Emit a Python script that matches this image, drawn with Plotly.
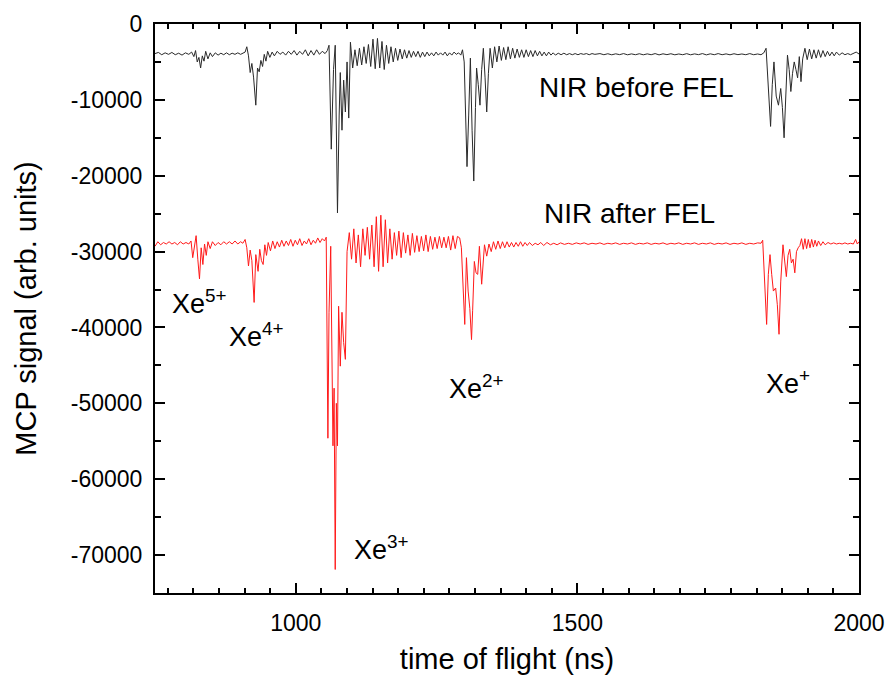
import plotly.graph_objects as go

# ---------------- data ----------------
tof_before = [
    750, 756, 762, 768, 774, 780, 786, 792, 798, 804,
    810, 815, 819, 822, 825, 828, 831, 834, 837, 840,
    844, 848, 852, 857, 862, 867, 872, 877, 882, 887,
    892, 897, 902, 906, 910, 913, 916, 919, 922, 925,
    929, 932, 935, 938, 941, 944, 947, 950, 954, 958,
    962, 967, 972, 977, 982, 987, 992, 997, 1002, 1007,
    1012, 1017, 1022, 1027, 1032, 1037, 1042, 1047, 1052, 1056,
    1059, 1063, 1067, 1070, 1074, 1077, 1079, 1082, 1085, 1088,
    1091, 1094, 1097, 1101, 1105, 1109, 1113, 1117, 1121, 1125,
    1129, 1133, 1137, 1141, 1145, 1149, 1153, 1157, 1161, 1165,
    1169, 1173, 1177, 1181, 1185, 1189, 1193, 1197, 1201, 1205,
    1209, 1213, 1217, 1221, 1225, 1229, 1233, 1237, 1241, 1245,
    1249, 1253, 1257, 1261, 1265, 1269, 1273, 1277, 1281, 1285,
    1289, 1293, 1296, 1299, 1301, 1304, 1307, 1310, 1313, 1316,
    1319, 1321, 1324, 1327, 1330, 1333, 1336, 1339, 1342, 1345,
    1349, 1353, 1357, 1361, 1365, 1369, 1373, 1377, 1381, 1385,
    1389, 1393, 1397, 1401, 1405, 1409, 1413, 1417, 1421, 1425,
    1429, 1433, 1437, 1441, 1445, 1449, 1453, 1457, 1461, 1466,
    1471, 1476, 1481, 1486, 1491, 1496, 1501, 1506, 1511, 1516,
    1521, 1526, 1531, 1536, 1540, 1547, 1554, 1561, 1568, 1575,
    1582, 1589, 1596, 1603, 1610, 1617, 1624, 1631, 1638, 1645,
    1652, 1659, 1666, 1673, 1680, 1687, 1694, 1701, 1708, 1715,
    1722, 1729, 1736, 1743, 1750, 1757, 1764, 1771, 1778, 1785,
    1792, 1799, 1806, 1813, 1820, 1826, 1831, 1835, 1839, 1843,
    1846, 1849, 1853, 1857, 1861, 1864, 1867, 1870, 1873, 1876,
    1879, 1882, 1885, 1888, 1891, 1894, 1897, 1900, 1904, 1908,
    1912, 1916, 1920, 1924, 1928, 1932, 1936, 1940, 1944, 1948,
    1952, 1956, 1960, 1965, 1970, 1975, 1980, 1985, 1990, 1995,
    2000,
]
signal_before = [
    -3900, -3750, -4050, -3800, -4000, -3750, -4050, -3850, -4100, -3800,
    -4000, -3700, -4300, -3500, -5000, -4400, -5800, -4200, -4900, -3600,
    -4600, -3800, -4300, -3800, -4100, -3850, -4050, -3800, -4050, -3850,
    -4000, -3800, -4000, -3800, -3700, -3000, -4200, -6400, -5200, -7000,
    -10700, -5800, -6300, -4800, -5600, -4000, -4900, -3600, -4400, -3700,
    -4200, -3600, -4000, -3700, -4100, -3600, -4000, -3500, -4100, -3600,
    -4000, -3400, -4200, -3500, -4100, -3400, -4000, -3600, -3900, -3500,
    -2800, -16500, -6000, -2800, -24900, -12000, -6400, -14000, -7400, -11600,
    -5000, -12400, -2400, -5800, -3400, -5500, -3200, -5400, -3000, -5200,
    -2700, -5600, -2000, -5900, -1900, -5800, -2300, -6000, -2800, -5200,
    -3000, -5000, -3200, -4800, -3300, -4600, -3400, -4500, -3500, -4400,
    -3600, -4300, -3600, -4400, -3700, -4300, -3700, -4200, -3800, -4200,
    -3700, -4100, -3800, -4100, -3700, -4200, -3800, -4100, -3700, -4000,
    -3800, -4100, -3400, -5000, -12000, -18800, -12000, -4500, -14000, -20700,
    -11000, -5800, -8000, -10700, -6000, -3200, -7000, -11600, -6500, -3200,
    -5800, -3000, -5000, -2900, -4800, -3100, -4700, -3000, -4600, -3200,
    -4500, -3300, -4400, -3400, -4400, -3400, -4300, -3500, -4300, -3500,
    -4200, -3600, -4200, -3700, -4200, -3700, -4100, -3800, -4100, -3850,
    -4050, -3850, -4050, -3900, -4050, -3900, -4050, -3900, -4000, -3900,
    -4050, -3900, -4000, -3950, -3900, -4050, -3920, -4060, -3930, -4040,
    -3900, -4060, -3940, -4050, -3920, -4060, -3940, -4050, -3900, -4070,
    -3930, -4040, -3920, -4060, -3950, -4050, -3910, -4060, -3940, -4040,
    -3900, -4070, -3930, -4050, -3900, -4050, -3940, -4060, -3920, -4040,
    -3950, -4050, -3900, -4050, -3950, -4050, -3800, -3200, -9000, -13500,
    -8000, -5000, -9500, -10700, -8500, -11000, -15000, -9000, -4100, -6000,
    -8900, -6500, -5000, -6000, -7100, -4300, -7600, -4600, -3200, -4700,
    -3300, -4600, -3400, -4500, -3400, -4400, -3500, -4300, -3600, -4200,
    -3700, -4200, -3700, -4100, -3800, -4050, -3900, -4050, -3900, -3700,
    -3950,
]

tof_after = [
    750, 755, 760, 765, 770, 775, 780, 785, 790, 795,
    800, 805, 810, 814, 817, 820, 823, 826, 829, 832,
    835, 838, 841, 844, 848, 852, 857, 862, 867, 872,
    877, 882, 887, 892, 897, 902, 906, 910, 913, 916,
    919, 922, 926, 929, 933, 936, 939, 942, 945, 948,
    951, 955, 959, 963, 967, 971, 975, 979, 983, 987,
    991, 995, 999, 1003, 1007, 1011, 1015, 1019, 1023, 1027,
    1031, 1035, 1039, 1043, 1047, 1051, 1054, 1057, 1059, 1062,
    1064, 1066, 1068, 1070, 1072, 1074, 1076, 1079, 1082, 1085,
    1088, 1091, 1095, 1099, 1103, 1107, 1111, 1115, 1119, 1123,
    1127, 1131, 1135, 1139, 1143, 1147, 1151, 1155, 1159, 1163,
    1167, 1171, 1175, 1179, 1183, 1187, 1191, 1195, 1199, 1203,
    1207, 1211, 1215, 1219, 1223, 1227, 1231, 1235, 1239, 1243,
    1247, 1251, 1255, 1259, 1263, 1267, 1271, 1275, 1279, 1283,
    1287, 1291, 1294, 1297, 1300, 1303, 1306, 1309, 1312, 1314,
    1317, 1320, 1323, 1326, 1330, 1335, 1339, 1343, 1347, 1351,
    1355, 1359, 1363, 1367, 1371, 1375, 1379, 1383, 1387, 1391,
    1395, 1399, 1403, 1407, 1411, 1415, 1420, 1425, 1430, 1435,
    1440, 1446, 1452, 1458, 1464, 1470, 1477, 1484, 1491, 1498,
    1505, 1512, 1519, 1526, 1533, 1540, 1547, 1554, 1561, 1568,
    1575, 1582, 1589, 1596, 1603, 1610, 1617, 1624, 1631, 1638,
    1645, 1652, 1659, 1666, 1673, 1680, 1687, 1694, 1701, 1708,
    1715, 1722, 1729, 1736, 1743, 1750, 1757, 1764, 1771, 1778,
    1785, 1792, 1799, 1806, 1813, 1820, 1826, 1829, 1833, 1836,
    1839, 1842, 1845, 1848, 1852, 1855, 1858, 1861, 1865, 1868,
    1871, 1874, 1877, 1880, 1883, 1886, 1889, 1892, 1895, 1898,
    1901, 1904, 1907, 1910, 1913, 1916, 1919, 1922, 1925, 1928,
    1932, 1936, 1940, 1945, 1950, 1955, 1960, 1965, 1970, 1975,
    1980, 1985, 1990, 1994, 1997, 2000,
]
signal_after = [
    -29300, -28700, -29100, -28800, -29000, -28700, -29000, -28800, -29100, -28700,
    -29000, -28800, -29000, -28600, -30800, -29200, -27900, -31000, -33600, -29500,
    -31700, -29000, -30500, -28700, -29600, -28700, -29200, -28800, -29100, -28700,
    -29000, -28700, -29000, -28600, -29000, -28700, -28900, -28400, -29500, -31900,
    -29800, -31200, -36700, -30400, -32600, -29700, -31200, -31700, -29100, -30500,
    -28800, -29900, -28600, -29600, -28700, -29400, -28500, -29300, -28600, -29200,
    -28400, -29300, -28500, -29100, -28300, -29200, -28600, -29000, -28300, -29100,
    -28500, -28900, -28200, -28800, -28300, -28600, -28100, -54600, -38000, -29300,
    -46000, -55600, -48000, -71900, -50000, -55600, -37200, -45100, -38000, -42000,
    -44200, -30000, -27500, -31000, -27000, -31500, -27800, -32000, -27000, -30500,
    -26800, -31000, -26500, -32000, -25400, -32600, -25200, -32000, -25800, -31500,
    -27000, -31000, -27500, -30500, -27300, -30800, -27500, -30200, -27800, -30500,
    -27600, -30100, -27900, -30000, -28000, -29900, -27800, -30000, -28000, -29700,
    -28100, -29600, -28000, -29500, -28100, -29500, -28000, -29800, -27900, -29600,
    -28000, -28200, -29500, -34000, -39600, -30800, -35200, -37500, -41600, -37800,
    -31300, -32800, -33000, -29300, -34300, -29100, -30600, -29000, -30000, -28700,
    -29700, -28600, -29600, -28700, -29500, -28700, -29400, -28800, -29400, -28800,
    -29300, -28700, -29300, -28800, -29200, -28800, -29200, -28900, -29100, -28800,
    -29200, -28800, -29100, -28900, -29100, -28850, -29050, -28900, -29050, -28850,
    -29000, -28850, -29050, -28900, -29000, -28850, -29050, -28900, -29000, -28850,
    -29050, -28900, -29000, -28850, -29050, -28900, -29000, -28850, -29050, -28900,
    -29000, -28850, -29050, -28900, -29000, -28850, -29050, -28900, -29000, -28850,
    -29050, -28900, -29000, -28850, -29050, -28900, -29000, -28850, -29050, -28900,
    -29000, -28850, -29050, -28900, -29000, -28850, -28900, -28500, -34000, -39600,
    -33000, -30400, -33000, -35200, -34800, -37000, -40900, -34000, -29100, -31000,
    -33300, -30500, -29700, -31500, -31000, -32800, -30000, -29500, -29200, -28300,
    -29700, -28300, -29600, -28400, -29500, -28400, -29400, -28500, -29300, -28600,
    -29200, -28700, -29100, -28800, -29000, -28850, -29000, -28900, -29000, -28850,
    -29000, -28900, -29000, -28400, -29000, -28700,
]

y_tick_values = [0, -10000, -20000, -30000, -40000, -50000, -60000, -70000]
y_tick_labels = ["0", "-10000", "-20000", "-30000", "-40000", "-50000", "-60000", "-70000"]
x_tick_values = [1000, 1500, 2000]
x_tick_labels = ["1000", "1500", "2000"]

trace_names = ["NIR before FEL", "NIR after FEL"]
ion_labels = ["Xe<sup>5+</sup>", "Xe<sup>4+</sup>", "Xe<sup>3+</sup>", "Xe<sup>2+</sup>", "Xe<sup>+</sup>"]
ion_label_tof = [777, 878, 1099, 1268, 1832]
ion_label_signal = [-36600, -41000, -69100, -47800, -47200]

FONT = "Liberation Sans, Arial, sans-serif"

fig = go.Figure()
fig.add_trace(go.Scatter(x=tof_before, y=signal_before, mode="lines",
                         line=dict(color="#2a2a2a", width=1), name=trace_names[0]))
fig.add_trace(go.Scatter(x=tof_after, y=signal_after, mode="lines",
                         line=dict(color="#ff1a1a", width=1), name=trace_names[1]))

annotations = [
    dict(x=1605, y=-8400, text=trace_names[0], showarrow=False,
         xanchor="center", yanchor="middle", font=dict(size=28, color="black", family=FONT)),
    dict(x=1592, y=-25000, text=trace_names[1], showarrow=False,
         xanchor="center", yanchor="middle", font=dict(size=28, color="black", family=FONT)),
]
for txt, tx, sy in zip(ion_labels, ion_label_tof, ion_label_signal):
    annotations.append(dict(x=tx, y=sy, text=txt, showarrow=False,
                            xanchor="left", yanchor="middle",
                            font=dict(size=27, color="black", family=FONT)))

axis_common = dict(
    showline=True, linecolor="black", linewidth=2, mirror="ticks",
    ticks="inside", tickcolor="black", tickwidth=2, ticklen=10,
    showgrid=False, zeroline=False, automargin=False,
    tickfont=dict(size=23, color="black", family=FONT),
)

fig.update_layout(
    width=888, height=675,
    margin=dict(l=155, r=29, t=24, b=82),
    paper_bgcolor="white", plot_bgcolor="white",
    showlegend=False,
    font=dict(family=FONT, color="black"),
    annotations=annotations,
    xaxis=dict(
        range=[750, 2000], tickmode="array", tickvals=x_tick_values, ticktext=x_tick_labels,
        minor=dict(ticks="inside", ticklen=5, tickwidth=2, tickcolor="black",
                   tick0=1000, dtick=500 / 11, showgrid=False),
        title=dict(text="time of flight (ns)", font=dict(size=29, color="black", family=FONT), standoff=14),
        ticklabelstandoff=8,
        **axis_common,
    ),
    yaxis=dict(
        range=[-75000, 0], tickmode="array", tickvals=y_tick_values, ticktext=y_tick_labels,
        minor=dict(ticks="inside", ticklen=6, tickwidth=2, tickcolor="black",
                   tick0=0, dtick=5000, showgrid=False),
        title=dict(text="MCP signal (arb. units)", font=dict(size=29, color="black", family=FONT), standoff=26),
        ticklabelstandoff=6,
        **axis_common,
    ),
)

# remove the default page margin so the 888x675 figure fills the window exactly
fig.write_html(
    "out.html",
    config={"displayModeBar": False},
    post_script="document.body.style.margin='0';document.body.style.overflow='hidden';",
)
